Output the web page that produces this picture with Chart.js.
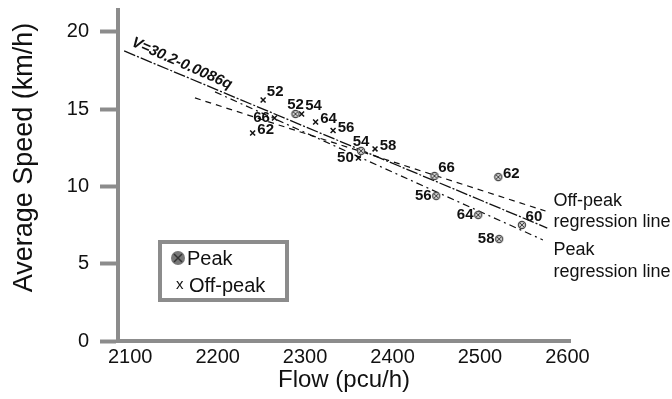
<!DOCTYPE html>
<html>
<head>
<meta charset="utf-8">
<title>Flow vs average speed</title>
<script src="https://cdn.jsdelivr.net/npm/chart.js@4.4.1/dist/chart.umd.min.js"></script>
<style>
  html, body { margin: 0; padding: 0; background: #fff; }
  #wrap { width: 672px; height: 399px; position: relative; }
</style>
</head>
<body>
<div id="wrap"><canvas id="speedChart"></canvas></div>
<script>
// observed points (flow pcu/h, speed km/h) and their labels
const peakFlow = [2289, 2364, 2448, 2521, 2450, 2498, 2548, 2522];
const peakSpeed = [14.69, 12.30, 10.68, 10.61, 9.39, 8.16, 7.51, 6.60];
const peakLabels = ['52', '54', '66', '62', '56', '64', '60', '58'];

const offPeakFlow = [2252, 2265, 2240, 2296, 2312, 2332, 2380, 2361];
const offPeakSpeed = [15.60, 14.43, 13.46, 14.69, 14.17, 13.62, 12.43, 11.84];
const offPeakLabels = ['52', '66', '62', '54', '64', '56', '58', '50'];

// regression lines, start and end points
const overallLineFlow = [2093, 2577];
const overallLineSpeed = [18.77, 7.31];
const offPeakLineFlow = [2174, 2575];
const offPeakLineSpeed = [15.73, 8.41];
const peakLineFlow = [2197, 2572];
const peakLineSpeed = [16.12, 6.54];

const xTicks = [2100, 2200, 2300, 2400, 2500, 2600];
const yTicks = [0, 5, 10, 15, 20];

// which side of the marker each number sits on
const peakLabelSide = ['u', 'u', 'ur', 'r', 'l', 'l', 'ur', 'l'];
const offPeakLabelSide = ['ur', 'l', 'r', 'ur', 'r', 'r', 'r', 'l'];
const sideOffset = { u: [0, -9], ur: [12, -8], r: [13, -3], l: [-13, 0] };

const FONT = "'Liberation Sans', Arial, Helvetica, sans-serif";
const AXIS_GREY = '#8c8c8c';

function toPoints(xs, ys) {
  return xs.map((v, i) => ({ x: v, y: ys[i] }));
}

function makePeakMarker() {
  const c = document.createElement('canvas');
  c.width = 10; c.height = 10;
  const g = c.getContext('2d');
  g.beginPath();
  g.arc(5, 5, 3.6, 0, Math.PI * 2);
  g.fillStyle = '#d0d0d0';
  g.fill();
  g.lineWidth = 1.2;
  g.strokeStyle = '#444';
  g.stroke();
  g.beginPath();
  g.moveTo(3, 3); g.lineTo(7, 7);
  g.moveTo(7, 3); g.lineTo(3, 7);
  g.lineWidth = 1;
  g.stroke();
  return c;
}

function lineSet(xs, ys, dash, width) {
  return {
    type: 'line',
    data: toPoints(xs, ys),
    borderColor: '#111',
    borderWidth: width,
    borderDash: dash,
    pointRadius: 0,
    fill: false,
    tension: 0
  };
}

// no extra room for half tick labels, the plot box is set by layout padding
function fixBox(s) {
  s.paddingTop = 0; s.paddingBottom = 0;
  s.paddingLeft = 0; s.paddingRight = 0;
}

const annotate = {
  id: 'annotate',
  afterDraw(chart) {
    const { ctx, chartArea, scales: { x, y } } = chart;
    ctx.save();
    ctx.fillStyle = '#111';

    // y axis title
    ctx.save();
    ctx.translate(chartArea.left - 93, (chartArea.top + chartArea.bottom) / 2 - 18);
    ctx.rotate(-Math.PI / 2);
    ctx.font = '27px ' + FONT;
    ctx.textAlign = 'center';
    ctx.textBaseline = 'middle';
    ctx.fillText('Average Speed (km/h)', 0, 0);
    ctx.restore();

    // point numbers
    ctx.font = 'bold 15px ' + FONT;
    ctx.textAlign = 'center';
    ctx.textBaseline = 'middle';
    peakLabels.forEach((t, i) => {
      const o = sideOffset[peakLabelSide[i]];
      ctx.fillText(t, x.getPixelForValue(peakFlow[i]) + o[0], y.getPixelForValue(peakSpeed[i]) + o[1]);
    });
    offPeakLabels.forEach((t, i) => {
      const o = sideOffset[offPeakLabelSide[i]];
      ctx.fillText(t, x.getPixelForValue(offPeakFlow[i]) + o[0], y.getPixelForValue(offPeakSpeed[i]) + o[1]);
    });

    // equation along the overall line
    const ax0 = x.getPixelForValue(overallLineFlow[0]), ay0 = y.getPixelForValue(overallLineSpeed[0]);
    const ax1 = x.getPixelForValue(overallLineFlow[1]), ay1 = y.getPixelForValue(overallLineSpeed[1]);
    ctx.save();
    ctx.translate(x.getPixelForValue(2159), y.getPixelForValue(17.95));
    ctx.rotate(Math.atan2(ay1 - ay0, ax1 - ax0) + 0.02);
    ctx.font = 'italic bold 15px ' + FONT;
    ctx.fillText('V=30.2-0.0086q', 0, 0);
    ctx.restore();

    // line captions on the right
    ctx.font = '18px ' + FONT;
    ctx.textAlign = 'left';
    const capX = x.getPixelForValue(2584);
    ctx.fillText('Off-peak', capX, y.getPixelForValue(9.06));
    ctx.fillText('regression line', capX, y.getPixelForValue(7.70));
    ctx.fillText('Peak', capX, y.getPixelForValue(5.89));
    ctx.fillText('regression line', capX, y.getPixelForValue(4.47));

    // legend box
    const bx = chartArea.left + 42, by = chartArea.top + 232, bw = 127, bh = 58;
    ctx.fillStyle = '#fff';
    ctx.fillRect(bx, by, bw, bh);
    ctx.lineWidth = 4;
    ctx.strokeStyle = AXIS_GREY;
    ctx.strokeRect(bx, by, bw, bh);

    ctx.beginPath();
    ctx.arc(bx + 18, by + 16, 7, 0, Math.PI * 2);
    ctx.fillStyle = '#777';
    ctx.fill();
    ctx.strokeStyle = '#333';
    ctx.lineWidth = 1.5;
    ctx.beginPath();
    ctx.moveTo(bx + 14, by + 12); ctx.lineTo(bx + 22, by + 20);
    ctx.moveTo(bx + 22, by + 12); ctx.lineTo(bx + 14, by + 20);
    ctx.stroke();

    ctx.fillStyle = '#111';
    ctx.font = '20px ' + FONT;
    ctx.textBaseline = 'middle';
    ctx.fillText('Peak', bx + 27, by + 17);
    ctx.font = '15px ' + FONT;
    ctx.fillText('x', bx + 16, by + 43);
    ctx.font = '20px ' + FONT;
    ctx.fillText('Off-peak', bx + 29, by + 44);
    ctx.restore();
  }
};

const canvas = document.getElementById('speedChart');
new Chart(canvas.getContext('2d'), {
  type: 'scatter',
  data: {
    datasets: [
      {
        label: 'Peak',
        data: toPoints(peakFlow, peakSpeed),
        pointStyle: makePeakMarker(),
        pointRadius: 5
      },
      {
        label: 'Off-peak',
        data: toPoints(offPeakFlow, offPeakSpeed),
        pointStyle: 'crossRot',
        pointRadius: 3.5,
        borderColor: '#111',
        borderWidth: 1.5
      },
      lineSet(overallLineFlow, overallLineSpeed, [12, 2, 2, 2], 1.3),
      lineSet(offPeakLineFlow, offPeakLineSpeed, [6, 5], 1.2),
      lineSet(peakLineFlow, peakLineSpeed, [7, 4, 2, 4], 1.2)
    ]
  },
  options: {
    responsive: true,
    maintainAspectRatio: false,
    animation: false,
    layout: { padding: { left: 0, right: 102, top: 10, bottom: 0 } },
    plugins: {
      legend: { display: false },
      tooltip: { enabled: false }
    },
    scales: {
      x: {
        type: 'linear',
        min: 2086,
        max: 2603,
        afterBuildTicks: s => { s.ticks = xTicks.map(v => ({ value: v })); },
        afterFit: s => { s.height = 58; fixBox(s); },
        grid: { display: false, drawTicks: false },
        border: { display: true, color: AXIS_GREY, width: 4 },
        ticks: {
          color: '#111',
          padding: 4,
          font: { family: FONT, size: 20 },
          callback: v => String(v)
        },
        title: {
          display: true,
          text: 'Flow (pcu/h)',
          color: '#111',
          font: { family: FONT, size: 24 },
          padding: { top: 0, bottom: 4 }
        }
      },
      y: {
        type: 'linear',
        min: 0,
        max: 21.42,
        afterBuildTicks: s => { s.ticks = yTicks.map(v => ({ value: v })); },
        afterFit: s => { s.width = 118; fixBox(s); },
        grid: {
          drawOnChartArea: false,
          drawTicks: true,
          tickLength: 18,
          tickWidth: 4,
          tickColor: AXIS_GREY
        },
        border: { display: true, color: AXIS_GREY, width: 4 },
        ticks: {
          color: '#111',
          padding: 11,
          font: { family: FONT, size: 20 },
          callback: v => String(v)
        },
        title: { display: false }
      }
    }
  },
  plugins: [annotate]
});
</script>
</body>
</html>
